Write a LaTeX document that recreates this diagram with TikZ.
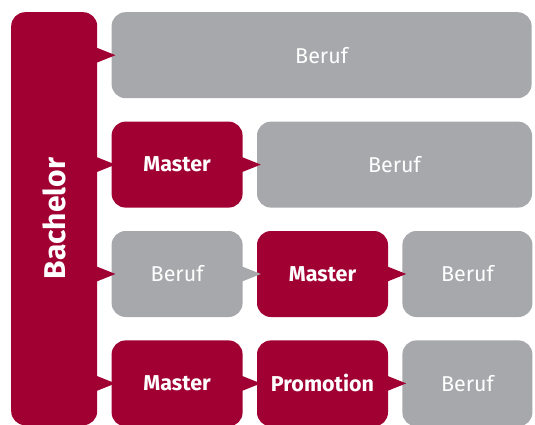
\documentclass[tikz,border=0pt]{standalone}
\usepackage{graphicx}
\usepackage{fontspec}
\setmainfont{Fira Sans}
\usepackage{tikz}
\usetikzlibrary{
  positioning,
  calc
}
\definecolor{unired}{HTML}{A10033}
\definecolor{unigray}{HTML}{A7A8AB}
\tikzset{
  box/.style={
    rectangle,
    rounded corners=14pt,
    inner sep=0pt,
    minimum height=86pt,
    text=white,
    font=\fontsize{21.5}{26}\selectfont,
  },
  redbox/.style={
    box,
    fill=unired,
    font=\fontsize{21.5}{26}\selectfont\bfseries,
  },
  graybox/.style={
    box,
    fill=unigray,
  },
}
% pointer from one box into the next, in the colour of the first
\newcommand{\pointer}[3][unired]{%
  \fill[#1] ($(#2.east |- #3.west)+(-2pt,8pt)$) -- ($(#3.west)+(4pt,0)$)
    -- ($(#2.east |- #3.west)+(-2pt,-8pt)$) -- cycle;}

\begin{document}
\begin{tikzpicture}[node distance=14pt]
		\useasboundingbox (0,0) rectangle (535pt,-425pt);

		% left column
		\node[redbox, minimum width=86pt, minimum height=413pt, anchor=north west,
			font=\fontsize{30}{36}\selectfont\bfseries] (bach) at (11pt,-12pt)
			{\rotatebox{90}{Bachelor}};

		% row 1
		\node[graybox, minimum width=420pt, right=14pt of bach.north east, anchor=north west] (beruf1) {Beruf};

		% row 2
		\node[redbox, minimum width=131pt, below=23pt of beruf1.south west, anchor=north west] (master2) {Master};
		\node[graybox, minimum width=275pt, right=of master2] (beruf2) {Beruf};

		% row 3
		\node[graybox, minimum width=131pt, below=23pt of master2.south west, anchor=north west] (beruf3a) {Beruf};
		\node[redbox, minimum width=131pt, right=of beruf3a] (master3) {Master};
		\node[graybox, minimum width=130pt, right=of master3] (beruf3b) {Beruf};

		% row 4
		\node[redbox, minimum width=131pt, below=23pt of beruf3a.south west, anchor=north west] (master4) {Master};
		\node[redbox, minimum width=131pt, right=of master4] (promo4) {Promotion};
		\node[graybox, minimum width=130pt, right=of promo4] (beruf4) {Beruf};

		% pointers
		\pointer{bach}{beruf1}
		\pointer{bach}{master2}
		\pointer{bach}{beruf3a}
		\pointer{bach}{master4}
		\pointer{master2}{beruf2}
		\pointer[unigray]{beruf3a}{master3}
		\pointer{master3}{beruf3b}
		\pointer{master4}{promo4}
		\pointer{promo4}{beruf4}

	\end{tikzpicture}
\end{document}
